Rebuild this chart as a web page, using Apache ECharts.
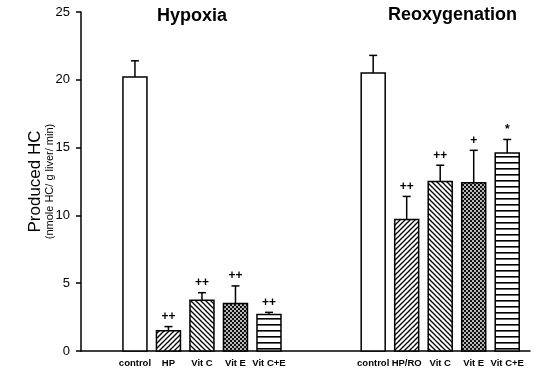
<!DOCTYPE html>
<html><head><meta charset="utf-8">
<script src="https://cdn.jsdelivr.net/npm/echarts@6/dist/echarts.min.js"></script>
<style>html,body{margin:0;padding:0;background:#fff}#c{width:537px;height:374px}</style>
</head><body><div id="c"></div>
<script>
// ---- data ----
const categories = ['control','HP','Vit C','Vit E','Vit C+E','control','HP/RO','Vit C','Vit E','Vit C+E'];
const groups = ['Hypoxia','Reoxygenation'];
const means  = [20.2, 1.5, 3.75, 3.5, 2.7, 20.5, 9.7, 12.5, 12.4, 14.6];
const errors = [1.2, 0.3, 0.55, 1.3, 0.15, 1.3, 1.7, 1.2, 2.4, 1.0];
const markers = ['', '++', '++', '++', '++', '', '++', '++', '+', '*'];
const patterns = ['none','fwd','back','dots','horiz','none','fwd','back','dots','horiz'];
const yTicks = [0,5,10,15,20,25];
// category slot positions on the x axis (in slot units)
const xPos = [1.61, 2.61, 3.61, 4.61, 5.61, 8.72, 9.72, 10.72, 11.72, 12.72];

function tile(kind){
  const c = document.createElement('canvas');
  let s = 5;
  if (kind==='horiz') s = 6;
  if (kind==='dots') s = 4;
  c.width = s; c.height = s;
  const g = c.getContext('2d');
  g.fillStyle = '#fff'; g.fillRect(0,0,s,s);
  g.strokeStyle = '#000'; g.lineWidth = 1.3;
  if (kind==='fwd'){
    g.beginPath(); g.moveTo(-1,s+1); g.lineTo(s+1,-1); g.stroke();
    g.beginPath(); g.moveTo(-1,1); g.lineTo(1,-1); g.stroke();
    g.beginPath(); g.moveTo(s-1,s+1); g.lineTo(s+1,s-1); g.stroke();
  } else if (kind==='back'){
    g.beginPath(); g.moveTo(-1,-1); g.lineTo(s+1,s+1); g.stroke();
    g.beginPath(); g.moveTo(s-1,-1); g.lineTo(s+1,1); g.stroke();
    g.beginPath(); g.moveTo(-1,s-1); g.lineTo(1,s+1); g.stroke();
  } else if (kind==='horiz'){
    g.fillStyle = '#000'; g.fillRect(0,0,s,1.6);
  } else if (kind==='dots'){
    g.fillStyle = '#111'; g.fillRect(0,0,s,s);
    g.fillStyle = '#fff';
    g.beginPath(); g.arc(1,1,0.95,0,Math.PI*2); g.fill();
    g.beginPath(); g.arc(3,3,0.95,0,Math.PI*2); g.fill();
  }
  return c;
}
const fills = {};
['fwd','back','dots','horiz'].forEach(k => fills[k] = {image: tile(k), repeat: 'repeat'});

const chart = echarts.init(document.getElementById('c'), null, {renderer:'canvas'});
const seriesData = means.map((m,i) => [xPos[i], m, errors[i], i]);
const barPx = 24;

chart.setOption({
  animation: false,
  backgroundColor: '#fff',
  grid: {left: 81, right: 7, top: 12, bottom: 23},
  xAxis: {
    type: 'value', min: 0, max: 13.4,
    splitLine: {show: false},
    axisLine: {show: true, lineStyle: {color: '#000', width: 1.5}},
    axisTick: {show: false},
    axisLabel: {
      customValues: xPos,
      formatter: v => { const i = xPos.findIndex(p => Math.abs(p - v) < 1e-6); return i >= 0 ? categories[i] : ''; },
      color: '#000', fontFamily: 'Liberation Sans, Arial', fontWeight: 'bold', fontSize: 9.5, margin: 7
    }
  },
  yAxis: {
    type: 'value', min: 0, max: 25, interval: 5,
    splitLine: {show: false},
    axisLine: {show: true, lineStyle: {color: '#000', width: 1.5}},
    axisTick: {show: true, inside: false, length: 5, lineStyle: {color: '#000', width: 1.5}},
    axisLabel: {color: '#000', fontFamily: 'Liberation Sans, Arial', fontSize: 13, margin: 11,
      formatter: v => yTicks.includes(v) ? String(v) : ''},
    name: '{a|Produced HC}\n{b|(nmole HC/ g liver/ min)}',
    nameLocation: 'middle', nameRotate: 90, nameGap: 25,
    nameMoveOverlap: false,
    nameTextStyle: {
      rich: {
        a: {fontFamily: 'Liberation Sans, Arial', fontSize: 17, color: '#000', lineHeight: 17, align: 'center'},
        b: {fontFamily: 'Liberation Sans, Arial', fontSize: 11, color: '#000', lineHeight: 12, align: 'center'}
      }
    }
  },
  graphic: [
    {type: 'text', left: 157, top: 7, style: {text: groups[0], font: 'bold 18px "Liberation Sans", Arial', fill: '#000'}},
    {type: 'text', left: 388, top: 6, style: {text: groups[1], font: 'bold 18px "Liberation Sans", Arial', fill: '#000'}}
  ],
  series: [{
    type: 'custom',
    data: seriesData,
    encode: {x: 0, y: 1},
    renderItem: (params, api) => {
      const x = api.value(0), y = api.value(1), e = api.value(2), i = api.value(3);
      const top = api.coord([x, y]);
      const base = api.coord([x, 0]);
      const etop = api.coord([x, y + e]);
      const pat = patterns[i];
      const fill = pat === 'none' ? '#fff' : fills[pat];
      const children = [
        {type: 'line', shape: {x1: top[0], y1: top[1], x2: etop[0], y2: etop[1]}, style: {stroke: '#000', lineWidth: 1.5}},
        {type: 'line', shape: {x1: etop[0] - 4, y1: etop[1], x2: etop[0] + 4, y2: etop[1]}, style: {stroke: '#000', lineWidth: 1.5}},
        {type: 'rect', shape: {x: top[0] - barPx/2, y: top[1], width: barPx, height: base[1] - top[1]},
          style: {fill: fill, stroke: '#000', lineWidth: 1.5}}
      ];
      if (markers[i]) {
        children.push({type: 'text', x: etop[0], y: etop[1] - 4,
          style: {text: markers[i], font: 'bold 12px "Liberation Sans", Arial', fill: '#000', align: 'center', verticalAlign: 'bottom'}});
      }
      return {type: 'group', children: children};
    }
  }]
});
</script></body></html>
